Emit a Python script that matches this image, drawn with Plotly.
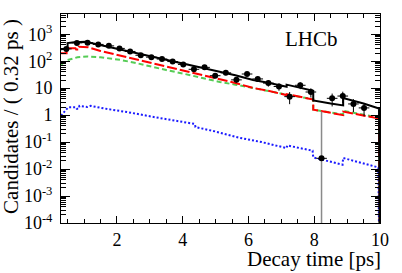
import plotly.graph_objects as go

# ---------------- data ----------------
bin_centers = [0.462, 0.785, 1.108, 1.432, 1.755, 2.078, 2.402, 2.725, 3.048, 3.372,
               3.695, 4.018, 4.342, 4.665, 4.988, 5.312, 5.635, 5.958, 6.282, 6.605,
               6.928, 7.252, 7.575, 7.898, 8.545, 8.868, 9.192, 9.515]
counts = [286, 477, 488, 419, 370, 298, 230, 166, 141, 120,
          97, 76, 50, 59, 29, 37, 20.3, 33.5, 22, 15.4,
          11.5, 4.85, 12.8, 7.2, 4.2, 5.1, 2.6, 1.85]
count_err = [17, 22, 22, 20, 19, 17, 15, 13, 12, 11,
             10, 9, 7.5, 8, 5.5, 6.5, 4.5, 6, 4.8, 4,
             3.5, 2.3, 3.6, 2.7, 2.1, 2.3, 1.3, 0.95]
bin_half_width = 0.1617

# low bin (8.2 ps) with very large error
low_t = [8.222]
low_val = [0.025]
low_err_up = [1.335]
low_err_down = [0.02499]

# fit components: (time [ps], candidates per bin)
total_t = [0.3, 0.50, 0.50, 0.70, 1.05, 1.5, 2.0, 2.5, 3.0, 3.5, 4.0, 4.5, 5.13, 5.6,
           6.14, 6.6, 7.16, 7.16, 7.97, 7.97, 8.5, 8.88, 8.88, 9.5, 9.97, 9.995]
total_v = [280, 295, 470, 505, 530, 400, 292, 212, 152, 112, 85, 62, 41, 30,
           20, 16, 11.3, 13.5, 8.0, 3.5, 2.7, 2.3, 4.3, 2.7, 1.75, 1e-6]

sig_t = [0.3, 0.47, 0.47, 0.74, 0.76, 0.84, 0.84, 1.12, 1.5, 2.0, 2.5, 3.0, 3.5, 4.0,
         4.5, 5.13, 5.6, 6.14, 6.6, 7.16, 7.16, 7.97, 7.97, 8.88, 8.88, 9.97, 9.995]
sig_v = [195, 195, 300, 300, 270, 270, 340, 330, 240, 172, 123, 87, 63, 47,
         33.5, 21.7, 15.6, 10.2, 8.0, 5.5, 6.0, 3.8, 1.6, 1.0, 1.35, 0.75, 1e-6]

bkg_t = [0.3, 0.5, 0.8, 1.1, 1.5, 2.1, 2.5, 3.05, 3.5, 4.0, 4.5, 5.13, 5.6, 6.14,
         6.6, 7.16, 7.97, 7.97, 8.88, 8.88, 9.97, 9.995]
bkg_v = [75, 110, 140, 150, 140, 112, 90, 62, 47, 35, 25, 17, 13.5, 10,
         8, 5.8, 3.9, 1.6, 1.05, 1.45, 0.8, 1e-6]

oth_t = [0.3, 0.47, 0.52, 0.76, 0.78, 0.84, 0.86, 1.1, 1.2, 1.73, 2.33, 3.15, 4.16,
         4.37, 4.39, 4.98, 5.69, 6.4, 7.16, 7.18, 7.95, 7.97, 8.86, 8.88, 9.95, 9.995]
oth_v = [0.95, 1.55, 1.95, 1.95, 1.72, 1.72, 2.2, 2.0, 2.2, 1.67, 1.29, 0.84, 0.51,
         0.47, 0.36, 0.25, 0.148, 0.1, 0.06, 0.075, 0.048, 0.027, 0.0145, 0.0257, 0.0115, 1e-7]

y_major = [1e-4, 1e-3, 1e-2, 1e-1, 1, 10, 1e2, 1e3]
y_major_text = ["10<sup>-4</sup>", "10<sup>-3</sup>", "10<sup>-2</sup>", "10<sup>-1</sup>",
                "1", "10", "10<sup>2</sup>", "10<sup>3</sup>"]
x_major = [2, 4, 6, 8, 10]
x_major_text = ["2", "4", "6", "8", "10"]

FONT = "Liberation Serif"

fig = go.Figure()
fig.add_trace(go.Scatter(x=bkg_t, y=bkg_v, mode="lines",
                         line=dict(color="#55cc55", width=2, dash="5px,3px"), hoverinfo="skip"))
fig.add_trace(go.Scatter(x=sig_t, y=sig_v, mode="lines",
                         line=dict(color="#ff0000", width=2, dash="10px,3px"), hoverinfo="skip"))
fig.add_trace(go.Scatter(x=oth_t, y=oth_v, mode="lines",
                         line=dict(color="#1a1aff", width=2, dash="2px,2px"), hoverinfo="skip"))
fig.add_trace(go.Scatter(x=total_t, y=total_v, mode="lines",
                         line=dict(color="black", width=2), hoverinfo="skip"))
fig.add_trace(go.Scatter(x=bin_centers, y=counts, mode="markers",
                         marker=dict(color="black", size=6),
                         error_y=dict(type="data", array=count_err, color="black", thickness=1, width=0),
                         error_x=dict(type="constant", value=bin_half_width, color="black", thickness=1, width=0)))
fig.add_trace(go.Scatter(x=low_t, y=low_val, mode="markers",
                         marker=dict(color="black", size=6),
                         error_y=dict(type="data", array=low_err_up, arrayminus=low_err_down,
                                      symmetric=False, color="#8a8a8a", thickness=1.5, width=0),
                         error_x=dict(type="constant", value=bin_half_width, color="black", thickness=1, width=0)))

minor_y = [k * 10 ** n for n in range(-4, 4) for k in range(2, 10) if k * 10 ** n < 5.6e3]
minor_x = [0.5, 1, 1.5, 2.5, 3, 3.5, 4.5, 5, 5.5, 6.5, 7, 7.5, 8.5, 9, 9.5]

fig.update_layout(
    width=402, height=273,
    margin=dict(l=61, r=22, t=14, b=50),
    paper_bgcolor="white", plot_bgcolor="white",
    showlegend=False,
    font=dict(family=FONT, color="black", size=18),
    xaxis=dict(range=[0.3, 10], showgrid=False, zeroline=False,
               showline=True, linecolor="black", linewidth=1, mirror="ticks",
               ticks="inside", ticklen=7, tickcolor="black",
               tickmode="array", tickvals=x_major, ticktext=x_major_text,
               tickfont=dict(family=FONT, size=18),
               minor=dict(ticks="inside", ticklen=4, tickcolor="black", tickmode="array", tickvals=minor_x)),
    yaxis=dict(type="log", range=[-4, 3.75], showgrid=False, zeroline=False,
               showline=True, linecolor="black", linewidth=1, mirror="ticks",
               ticks="inside", ticklen=9, tickcolor="black",
               tickmode="array", tickvals=y_major, ticktext=y_major_text,
               tickfont=dict(family=FONT, size=18), ticklabelstandoff=4,
               minor=dict(ticks="inside", ticklen=5, tickcolor="black", tickmode="array", tickvals=minor_y)),
    annotations=[
        dict(text="Candidates / ( 0.32 ps )", xref="paper", yref="paper",
             x=-0.157, y=0.512, xanchor="center", yanchor="middle", textangle=-90,
             showarrow=False, font=dict(family=FONT, size=21)),
        dict(text="Decay time [ps]", xref="paper", yref="paper",
             x=1.0094, y=-0.172, xanchor="right", yanchor="middle",
             showarrow=False, font=dict(family=FONT, size=21)),
        dict(text="LHCb", xref="paper", yref="paper",
             x=0.784, y=0.880, xanchor="center", yanchor="middle",
             showarrow=False, font=dict(family=FONT, size=21)),
    ],
)

fig.write_html("out.html", config={"displayModeBar": False},
               post_script="document.body.style.margin='0';document.body.style.overflow='hidden';")
